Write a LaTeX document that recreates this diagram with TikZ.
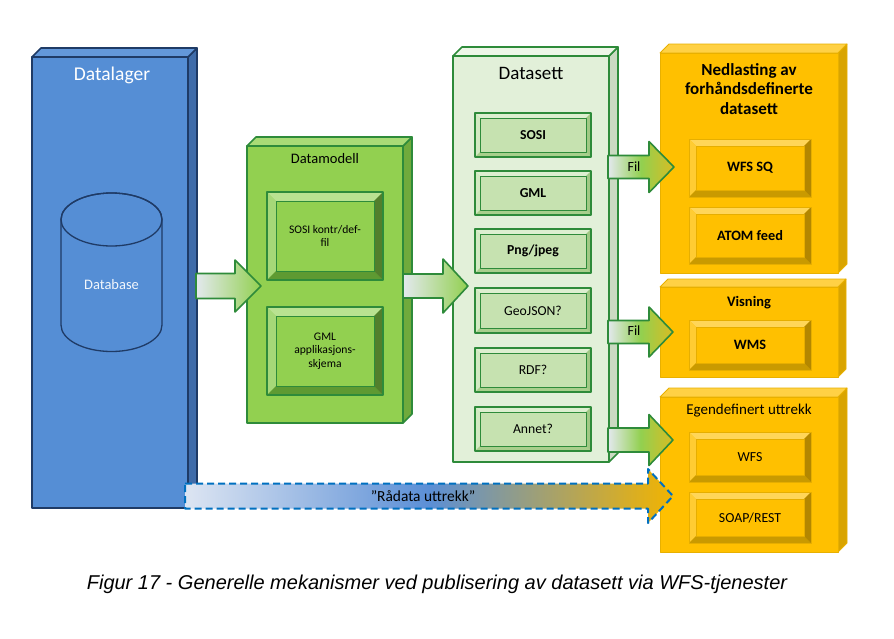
\documentclass[tikz,border=0pt]{standalone}
\usepackage{fontspec}
\setmainfont{Carlito}
\newfontfamily\capfont{Liberation Sans}
\usetikzlibrary{calc}
% colours
\definecolor{dlfront}{HTML}{558ED5}
\definecolor{dltop}{HTML}{6398DA}
\definecolor{dlside}{HTML}{3F6CAA}
\definecolor{dlborder}{HTML}{1F3B66}
\definecolor{dmfront}{HTML}{92D050}
\definecolor{dmtop}{HTML}{A9DB76}
\definecolor{dmside}{HTML}{70AA3C}
\definecolor{dmborder}{HTML}{2E8B3A}
\definecolor{dsfront}{HTML}{E2F0D9}
\definecolor{dstop}{HTML}{EEF7E8}
\definecolor{dsside}{HTML}{CBDAC2}
\definecolor{dsborder}{HTML}{2E8B3A}
\definecolor{yefront}{HTML}{FFC000}
\definecolor{yetop}{HTML}{FFD145}
\definecolor{yeside}{HTML}{D9A400}
\definecolor{yeborder}{HTML}{E8B000}
% inner boxes
\definecolor{dmiface}{HTML}{92D050}
\definecolor{dmilight}{HTML}{B9E291}
\definecolor{dmileft}{HTML}{A6D878}
\definecolor{dmidark}{HTML}{5E9A32}
\definecolor{dmiright}{HTML}{527F2C}
\definecolor{dmiborder}{HTML}{2E8B3A}
\definecolor{dsiface}{HTML}{C6E2B0}
\definecolor{dsilight}{HTML}{DDEFD0}
\definecolor{dsileft}{HTML}{D3EAC3}
\definecolor{dsidark}{HTML}{A8CF8C}
\definecolor{dsiright}{HTML}{A0C884}
\definecolor{dsiborder}{HTML}{2E8B3A}
\definecolor{yiface}{HTML}{FFC000}
\definecolor{yilight}{HTML}{FFD659}
\definecolor{yileft}{HTML}{FFCC33}
\definecolor{yidark}{HTML}{C99A00}
\definecolor{yiright}{HTML}{B38700}
\definecolor{yiborder}{HTML}{E6AE00}
\definecolor{arrowborder}{HTML}{2E8B3A}
\definecolor{palegrey}{HTML}{E3E9EE}
\definecolor{arrowgreen}{HTML}{92D050}
\definecolor{arrowyellow}{HTML}{D9BC22}
\definecolor{rdleft}{HTML}{DDE5F2}
\definecolor{rdmid}{HTML}{5B8FD6}
\definecolor{rdright}{HTML}{F2B400}
\definecolor{rddash}{HTML}{0070C0}

\tikzset{
  dlline/.style={line width=1.6pt},
  dmline/.style={line width=1.6pt},
  dsline/.style={line width=1.6pt},
  yeline/.style={line width=0.8pt},
  dmiline/.style={line width=2pt},
  dsiline/.style={line width=2pt},
  yiline/.style={line width=1pt},
  greenarrow/.style={draw=arrowborder, line width=1.6pt, left color=palegrey, right color=arrowgreen},
  filarrow/.style={draw=arrowborder, line width=1.6pt, left color=palegrey, right color=arrowyellow, middle color=arrowgreen},
  rawarrow/.style={draw=rddash, line width=2pt, dash pattern=on 7pt off 4pt, left color=rdleft, right color=rdright, middle color=rdmid},
  lbl/.style={inner sep=0pt, align=center},
}

% 3D box: name, x1, y1, x2, y2, depth, colour prefix
\newcommand\cubebox[7]{%
  \filldraw[fill=#7side, draw=#7border, #7line] (#4,#3) -- (#4+#6,#3-#6) -- (#4+#6,#5-#6) -- (#4,#5) -- cycle;
  \filldraw[fill=#7top, draw=#7border, #7line] (#2,#3) -- (#2+#6,#3-#6) -- (#4+#6,#3-#6) -- (#4,#3) -- cycle;
  \node[draw=#7border, fill=#7front, #7line, inner sep=0pt,
        minimum width={(#4-#2)*1pt}, minimum height={(#5-#3)*1pt}] (#1) at ({(#2+#4)/2},{(#3+#5)/2}) {};
}
% bevelled box: name, x1, y1, x2, y2, bevel, colour prefix, text, font
\newcommand\bevelbox[9]{%
  \fill[#7face] (#2,#3) rectangle (#4,#5);
  \fill[#7light] (#2,#3) -- (#4,#3) -- (#4-#6,#3+#6) -- (#2+#6,#3+#6) -- cycle;
  \fill[#7left] (#2,#3) -- (#2+#6,#3+#6) -- (#2+#6,#5-#6) -- (#2,#5) -- cycle;
  \fill[#7dark] (#2,#5) -- (#2+#6,#5-#6) -- (#4-#6,#5-#6) -- (#4,#5) -- cycle;
  \fill[#7right] (#4,#3) -- (#4,#5) -- (#4-#6,#5-#6) -- (#4-#6,#3+#6) -- cycle;
  \draw[#7border, line width=0.4pt] (#2+#6,#3+#6) rectangle (#4-#6,#5-#6);
  \draw[#7border, #7line] (#2,#3) rectangle (#4,#5);
  \node[lbl, font=#9] (#1) at ({(#2+#4)/2},{(#3+#5)/2}) {#8};
}
% block arrow: name, tail x, head base x, tip x, centre y, half shaft, half head, style
\newcommand\blockarrow[8]{%
  \path[#8] (#2,#5-#6) -- (#3,#5-#6) -- (#3,#5-#7) -- (#4,#5) -- (#3,#5+#7) -- (#3,#5+#6) -- (#2,#5+#6) -- cycle;
  \coordinate (#1) at (#4,#5);
}

\begin{document}
\begin{tikzpicture}[x=1pt, y=-1pt, line join=round]
\useasboundingbox[fill=white] (0,0) rectangle (894,638);

% ---------- Datalager ----------
\cubebox{dl}{32}{57}{188}{508}{9}{dl}
\node[lbl, text=white, font=\fontsize{19.5}{22}\selectfont] (dltitle) at (112,75) {Datalager};
\filldraw[fill=dlfront, draw=dlborder, line width=1.3pt]
  (61,219.5) -- (61,325) arc[start angle=180, end angle=360, x radius=50.5pt, y radius=26.5pt]
  -- (162,219.5) arc[start angle=0, end angle=180, x radius=50.5pt, y radius=26.5pt] -- cycle;
\draw[dlborder, line width=1.3pt] (111.5,219.5) ellipse [x radius=50.5pt, y radius=26.5pt];
\node[lbl, text=white!92!dlfront, font=\fontsize{14.5}{17}\selectfont] (db) at (111.5,285) {Database};

% ---------- Datamodell ----------
\cubebox{dm}{247}{146}{403}{423}{9}{dm}
\node[lbl, font=\fontsize{14.5}{17}\selectfont] (dmtitle) at (325,159) {Datamodell};
\bevelbox{sosidef}{267}{192}{383}{280}{9}{dmi}{SOSI kontr/def-\\fil}{\fontsize{11.6}{13.3}\selectfont}
\bevelbox{gmlapp}{267}{307}{383}{395}{9}{dmi}{GML\\applikasjons-\\skjema}{\fontsize{11.6}{13.3}\selectfont}

% ---------- Datasett ----------
\cubebox{ds}{453}{56}{609}{462}{9}{ds}
\node[lbl, font=\fontsize{19}{22}\selectfont] (dstitle) at (531,73) {Datasett};
\bevelbox{sosi}{475}{113}{591}{157}{5}{dsi}{SOSI}{\bfseries\fontsize{13.7}{16}\selectfont}
\bevelbox{gml}{475}{171}{591}{215}{5}{dsi}{GML}{\bfseries\fontsize{13.7}{16}\selectfont}
\bevelbox{png}{475}{229}{591}{273}{5}{dsi}{Png/jpeg}{\bfseries\fontsize{13.7}{16}\selectfont}
\bevelbox{geojson}{475}{288}{591}{333}{5}{dsi}{GeoJSON?}{\fontsize{13.7}{16}\selectfont}
\bevelbox{rdf}{475}{348}{591}{392}{5}{dsi}{RDF?}{\fontsize{13.7}{16}\selectfont}
\bevelbox{annet}{475}{407}{591}{451}{5}{dsi}{Annet?}{\fontsize{13.7}{16}\selectfont}

% ---------- Nedlasting ----------
\cubebox{ned}{660}{53}{838}{273}{9}{ye}
\node[lbl, font=\bfseries\fontsize{17}{19.5}\selectfont] (nedtitle) at (749,89) {Nedlasting av\\forhåndsdefinerte\\datasett};
\bevelbox{wfssq}{689}{139}{811}{197}{7}{yi}{WFS SQ}{\bfseries\fontsize{14.3}{16}\selectfont}
\bevelbox{atom}{689}{207}{811}{264}{7}{yi}{ATOM feed}{\bfseries\fontsize{14.3}{16}\selectfont}

% ---------- Visning ----------
\cubebox{vis}{660}{287}{838}{377}{8}{ye}
\node[lbl, font=\bfseries\fontsize{14.5}{17}\selectfont] (vistitle) at (749,303) {Visning};
\bevelbox{wms}{689}{320}{811}{370}{7}{yi}{WMS}{\bfseries\fontsize{14.3}{16}\selectfont}

% ---------- Egendefinert ----------
\cubebox{ege}{660}{397}{838}{552}{9}{ye}
\node[lbl, font=\fontsize{15}{18}\selectfont] (egetitle) at (749,411) {Egendefinert uttrekk};
\bevelbox{wfs}{689}{432}{811}{482}{7}{yi}{WFS}{\fontsize{13.8}{16}\selectfont}
\bevelbox{soap}{689}{492}{811}{543}{7}{yi}{SOAP/REST}{\fontsize{13.8}{16}\selectfont}

% ---------- Arrows ----------
\blockarrow{a1}{196}{235}{261}{286}{12.5}{26}{greenarrow}
\blockarrow{a2}{403}{443}{468}{286}{12}{27}{greenarrow}
\blockarrow{a3}{608}{649}{674}{167}{11.5}{25.5}{filarrow}
\blockarrow{a4}{608}{649}{673}{332}{11.5}{25}{filarrow}
\blockarrow{a5}{608}{649}{673}{440}{12}{25.5}{filarrow}
\blockarrow{a6}{185}{648}{673}{496}{12.5}{27}{rawarrow}
\node[lbl, font=\fontsize{14}{16}\selectfont] (fil1) at (634,167) {Fil};
\node[lbl, font=\fontsize{14}{16}\selectfont] (fil2) at (634,331) {Fil};
\node[lbl, font=\fontsize{15.4}{18}\selectfont] (raw) at (423,496) {”Rådata uttrekk”};

% ---------- Caption ----------
\node[lbl, font=\capfont\itshape\fontsize{20}{23}\selectfont] (cap) at (437,584)
  {Figur 17 - Generelle mekanismer ved publisering av datasett via WFS-tjenester};
\end{tikzpicture}
\end{document}
